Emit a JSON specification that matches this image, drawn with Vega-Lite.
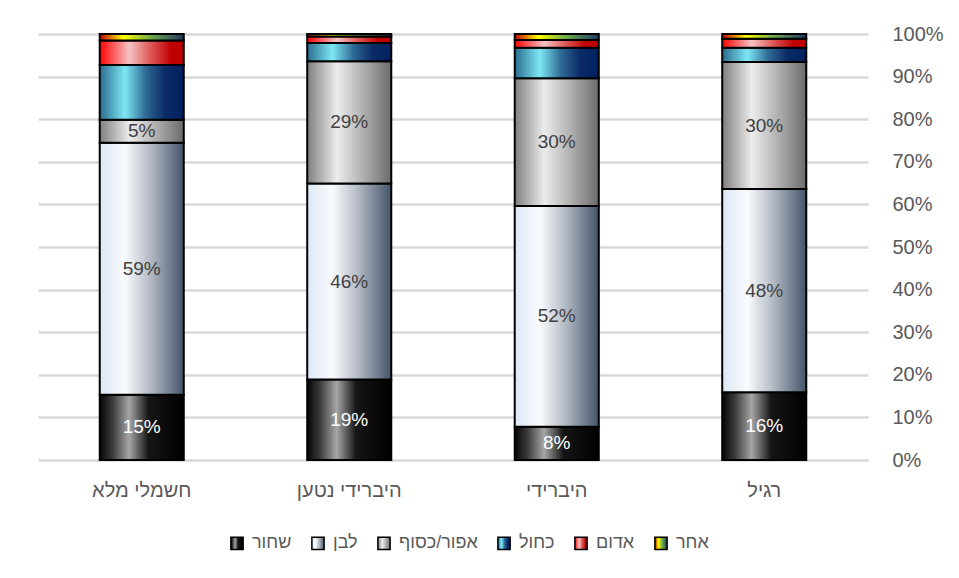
{
  "$schema": "https://vega.github.io/schema/vega-lite/v6.json",
  "width": 830,
  "height": 426,
  "padding": {"left": 38, "top": 24, "right": 0, "bottom": 0},
  "background": "white",
  "config": {
    "font": "Liberation Sans",
    "view": {"stroke": null},
    "axis": {"labelFont": "Liberation Sans", "labelColor": "#595959", "labelFontSize": 20}
  },
  "data": {
    "values": [
      {"type": "חשמלי מלא", "color": "שחור", "rank": 1, "share": 0.153},
      {"type": "חשמלי מלא", "color": "לבן", "rank": 2, "share": 0.592},
      {"type": "חשמלי מלא", "color": "אפור/כסוף", "rank": 3, "share": 0.054},
      {"type": "חשמלי מלא", "color": "כחול", "rank": 4, "share": 0.128},
      {"type": "חשמלי מלא", "color": "אדום", "rank": 5, "share": 0.058},
      {"type": "חשמלי מלא", "color": "אחר", "rank": 6, "share": 0.015},

      {"type": "היברידי נטען", "color": "שחור", "rank": 1, "share": 0.189},
      {"type": "היברידי נטען", "color": "לבן", "rank": 2, "share": 0.46},
      {"type": "היברידי נטען", "color": "אפור/כסוף", "rank": 3, "share": 0.287},
      {"type": "היברידי נטען", "color": "כחול", "rank": 4, "share": 0.043},
      {"type": "היברידי נטען", "color": "אדום", "rank": 5, "share": 0.015},
      {"type": "היברידי נטען", "color": "אחר", "rank": 6, "share": 0.006},

      {"type": "היברידי", "color": "שחור", "rank": 1, "share": 0.078},
      {"type": "היברידי", "color": "לבן", "rank": 2, "share": 0.518},
      {"type": "היברידי", "color": "אפור/כסוף", "rank": 3, "share": 0.30},
      {"type": "היברידי", "color": "כחול", "rank": 4, "share": 0.072},
      {"type": "היברידי", "color": "אדום", "rank": 5, "share": 0.018},
      {"type": "היברידי", "color": "אחר", "rank": 6, "share": 0.014},

      {"type": "רגיל", "color": "שחור", "rank": 1, "share": 0.159},
      {"type": "רגיל", "color": "לבן", "rank": 2, "share": 0.477},
      {"type": "רגיל", "color": "אפור/כסוף", "rank": 3, "share": 0.298},
      {"type": "רגיל", "color": "כחול", "rank": 4, "share": 0.034},
      {"type": "רגיל", "color": "אדום", "rank": 5, "share": 0.021},
      {"type": "רגיל", "color": "אחר", "rank": 6, "share": 0.011}
    ]
  },
  "encoding": {
    "x": {
      "field": "type",
      "type": "nominal",
      "sort": null,
      "scale": {"paddingInner": 0.595, "paddingOuter": 0.2975},
      "axis": {"title": null, "labelAngle": 0, "domain": false, "ticks": false, "labelPadding": 20}
    },
    "y": {
      "field": "share",
      "type": "quantitative",
      "stack": "normalize",
      "scale": {"domain": [0, 1]},
      "axis": {
        "title": null,
        "orient": "right",
        "format": ".0%",
        "values": [0, 0.1, 0.2, 0.3, 0.4, 0.5, 0.6, 0.7, 0.8, 0.9, 1],
        "domain": false,
        "ticks": false,
        "labelPadding": 24,
        "gridColor": "#d9d9d9",
        "gridWidth": 2.5
      }
    },
    "order": {"field": "rank", "type": "quantitative"}
  },
  "layer": [
    {
      "mark": {"type": "bar", "stroke": "#000000", "strokeWidth": 2},
      "encoding": {
        "fill": {
          "field": "color",
          "type": "nominal",
          "sort": ["שחור", "לבן", "אפור/כסוף", "כחול", "אדום", "אחר"],
          "scale": {
            "domain": ["שחור", "לבן", "אפור/כסוף", "כחול", "אדום", "אחר"],
            "range": [
              {"expr": "{gradient: 'linear', stops: [{offset: 0, color: '#050505'}, {offset: 0.15, color: '#3a3a3a'}, {offset: 0.35, color: '#a6a6a6'}, {offset: 0.58, color: '#151515'}, {offset: 1, color: '#000000'}]}"},
              {"expr": "{gradient: 'linear', stops: [{offset: 0, color: '#dce8f6'}, {offset: 0.3, color: '#f9fbfd'}, {offset: 0.6, color: '#b4bbc5'}, {offset: 1, color: '#44546a'}]}"},
              {"expr": "{gradient: 'linear', stops: [{offset: 0, color: '#7f7f7f'}, {offset: 0.35, color: '#ececec'}, {offset: 0.7, color: '#a9a9a9'}, {offset: 1, color: '#6b6b6b'}]}"},
              {"expr": "{gradient: 'linear', stops: [{offset: 0, color: '#2b6c8f'}, {offset: 0.3, color: '#7de8f4'}, {offset: 0.55, color: '#2e6995'}, {offset: 0.78, color: '#0b2a66'}, {offset: 1, color: '#002060'}]}"},
              {"expr": "{gradient: 'linear', stops: [{offset: 0, color: '#ff0000'}, {offset: 0.35, color: '#f6c3c3'}, {offset: 0.6, color: '#df5a5a'}, {offset: 0.85, color: '#c00000'}, {offset: 1, color: '#c00000'}]}"},
              {"expr": "{gradient: 'linear', stops: [{offset: 0, color: '#c00000'}, {offset: 0.28, color: '#ffff00'}, {offset: 0.6, color: '#70ad47'}, {offset: 1, color: '#1f3864'}]}"}
            ]
          },
          "legend": {
            "title": null,
            "orient": "none",
            "direction": "horizontal",
            "legendX": 190,
            "legendY": 500,
            "symbolType": "square",
            "symbolSize": 150,
            "symbolStrokeColor": "#000000",
            "symbolStrokeWidth": 1.5,
            "symbolOpacity": 1,
            "labelFont": "Liberation Sans",
            "labelFontSize": 18,
            "labelColor": "#595959",
            "labelOffset": 6,
            "columnPadding": 16
          }
        }
      }
    },
    {
      "mark": {"type": "text", "fontSize": 19, "font": "Liberation Sans"},
      "encoding": {
        "y": {"field": "share", "type": "quantitative", "stack": "normalize", "bandPosition": 0.5},
        "detail": {"field": "color", "type": "nominal"},
        "text": {"field": "share", "type": "quantitative", "format": ".0%"},
        "color": {
          "condition": {"test": "datum.rank == 1", "value": "#ffffff"},
          "value": "#404040"
        },
        "opacity": {
          "condition": {"test": "datum.rank <= 3", "value": 1},
          "value": 0
        }
      }
    }
  ]
}
